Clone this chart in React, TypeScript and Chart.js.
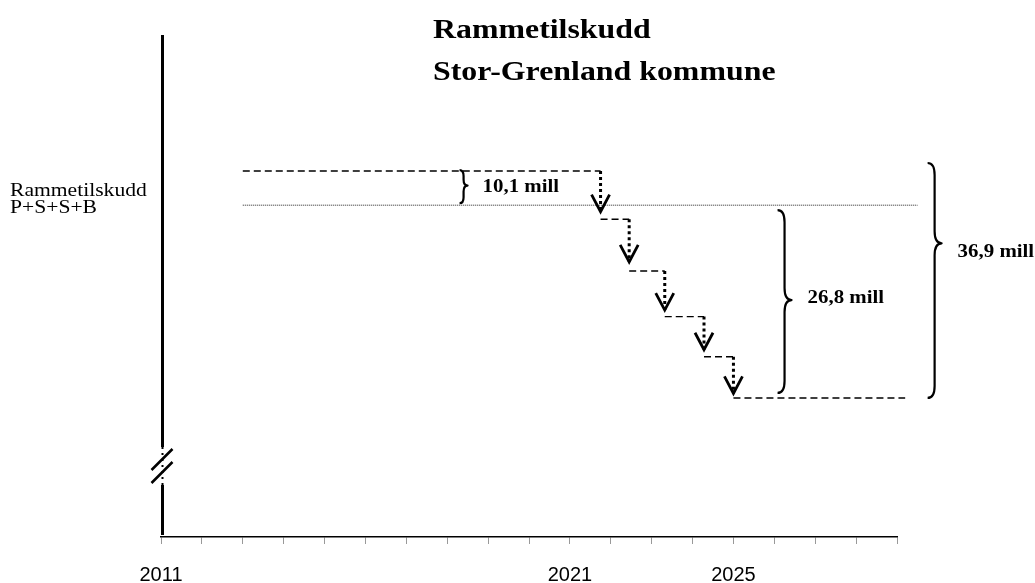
import { useEffect, useRef } from "react";
import { Chart, registerables } from "chart.js";

Chart.register(...registerables);

// ---- Text ----
const titleLines = ["Rammetilskudd", "Stor-Grenland kommune"];
const sideLabel = ["Rammetilskudd", "P+S+S+B"];

// ---- X axis (years) ----
const yearMin = 2011;
const yearMax = 2029;
const labeledYears = [2011, 2021, 2025];

// ---- Levels (schematic units) ----
const beforeStart = 2013.0;
const beforeLevel = 72.9;
const baseLevel = 66.1;
const baseEnd = 2029.5;

// Step-down schedule
const cutYears = [2021.75, 2022.45, 2023.32, 2024.28, 2025.0];
const stepLevels = [63.3, 53.0, 43.9, 35.9, 27.7];
const arrowTips = [64.8, 54.8, 45.2, 37.3, 28.6];
const finalEnd = 2029.2;

// Braces with amounts
const braceLabels = ["10,1 mill", "26,8 mill", "36,9 mill"];
const braceYears = [2018.4, 2026.25, 2029.92];
const braceTops = [73.1, 65.1, 74.5];
const braceBottoms = [66.5, 28.7, 27.7];
const braceTipLevels = [70.0, 47.2, 58.5];
const braceLabelLevels = [69.6, 47.6, 56.8];

const SERIF = "'Liberation Serif', 'Times New Roman', serif";
const SANS = "'Liberation Sans', Arial, sans-serif";

function drawStretched(
  ctx: CanvasRenderingContext2D,
  text: string,
  x: number,
  y: number,
  font: string,
  stretch: number,
  baseline: CanvasTextBaseline = "alphabetic"
) {
  ctx.save();
  ctx.font = font;
  ctx.fillStyle = "#000";
  ctx.textAlign = "left";
  ctx.textBaseline = baseline;
  ctx.translate(x, y);
  ctx.scale(stretch, 1);
  ctx.fillText(text, 0, 0);
  ctx.restore();
}

function drawBrace(
  ctx: CanvasRenderingContext2D,
  x: number,
  yTop: number,
  yBot: number,
  tipY: number,
  w: number,
  r: number
) {
  ctx.beginPath();
  ctx.moveTo(x - w, yTop);
  ctx.quadraticCurveTo(x, yTop, x, yTop + r);
  ctx.lineTo(x, tipY - r);
  ctx.quadraticCurveTo(x, tipY, x + w, tipY);
  ctx.quadraticCurveTo(x, tipY, x, tipY + r);
  ctx.lineTo(x, yBot - r);
  ctx.quadraticCurveTo(x, yBot, x - w, yBot);
  ctx.stroke();
}

const decorPlugin = {
  id: "decor",
  afterDraw(chart: any) {
    const ctx: CanvasRenderingContext2D = chart.ctx;
    const xs = chart.scales.x;
    const ys = chart.scales.y;
    const area = chart.chartArea;
    ctx.save();

    // Title
    drawStretched(ctx, titleLines[0], 433, 38, `bold 27px ${SERIF}`, 1.18);
    drawStretched(ctx, titleLines[1], 433, 80, `bold 27px ${SERIF}`, 1.18);

    // Side label next to base level
    const basePx = ys.getPixelForValue(baseLevel);
    drawStretched(ctx, sideLabel[0], 10, basePx - 9, `18px ${SERIF}`, 1.2);
    drawStretched(ctx, sideLabel[1], 10, basePx + 8, `18px ${SERIF}`, 1.2);

    // Vertical axis with break
    const ax = area.left + 1.5;
    const bTop = area.bottom - 90;
    const bBot = area.bottom - 52;
    ctx.strokeStyle = "#000";
    ctx.lineCap = "butt";
    ctx.lineWidth = 3;
    ctx.setLineDash([]);
    ctx.beginPath();
    ctx.moveTo(ax, area.top);
    ctx.lineTo(ax, bTop);
    ctx.moveTo(ax, bBot);
    ctx.lineTo(ax, area.bottom - 2);
    ctx.stroke();
    ctx.lineWidth = 2;
    ctx.setLineDash([2, 4]);
    ctx.beginPath();
    ctx.moveTo(ax, bTop);
    ctx.lineTo(ax, bBot);
    ctx.stroke();
    ctx.setLineDash([]);
    ctx.lineWidth = 2.5;
    ctx.beginPath();
    ctx.moveTo(ax - 11, bTop + 23);
    ctx.lineTo(ax + 10, bTop + 2);
    ctx.moveTo(ax - 11, bTop + 36);
    ctx.lineTo(ax + 10, bTop + 15);
    ctx.stroke();

    // Arrow heads
    ctx.lineWidth = 2.8;
    ctx.lineJoin = "miter";
    cutYears.forEach((yr, i) => {
      const px = xs.getPixelForValue(yr);
      const py = ys.getPixelForValue(arrowTips[i]);
      ctx.beginPath();
      ctx.moveTo(px - 9, py - 17);
      ctx.lineTo(px, py);
      ctx.lineTo(px + 9, py - 17);
      ctx.stroke();
    });

    // Braces and labels
    ctx.lineWidth = 2.2;
    ctx.lineJoin = "round";
    braceLabels.forEach((label, i) => {
      const bx = xs.getPixelForValue(braceYears[i]);
      const yT = ys.getPixelForValue(braceTops[i]);
      const yB = ys.getPixelForValue(braceBottoms[i]);
      const yTip = ys.getPixelForValue(braceTipLevels[i]);
      const span = yB - yT;
      const w = span > 100 ? 7 : 4;
      const r = span > 100 ? 12 : 6;
      drawBrace(ctx, bx, yT, yB, yTip, w, r);
      drawStretched(
        ctx,
        label,
        bx + (i === 0 ? 19 : 23),
        ys.getPixelForValue(braceLabelLevels[i]),
        `bold 18px ${SERIF}`,
        1.16,
        "middle"
      );
    });

    ctx.restore();
  },
};

export default function App() {
  const ref = useRef<HTMLCanvasElement>(null);

  useEffect(() => {
    if (!ref.current) return;

    const stepsData: any[] = [];
    cutYears.forEach((yr, i) => {
      const end = i < cutYears.length - 1 ? cutYears[i + 1] : finalEnd;
      stepsData.push({ x: yr, y: stepLevels[i] });
      stepsData.push({ x: end, y: stepLevels[i] });
      stepsData.push({ x: end, y: null });
    });

    const arrowData: any[] = [];
    cutYears.forEach((yr, i) => {
      const from = i === 0 ? beforeLevel : stepLevels[i - 1];
      arrowData.push({ x: yr, y: from });
      arrowData.push({ x: yr, y: arrowTips[i] });
      arrowData.push({ x: yr, y: null });
    });

    const common = {
      pointRadius: 0,
      pointHoverRadius: 0,
      tension: 0,
      fill: false,
      clip: false as const,
      spanGaps: false,
    };

    const chart = new Chart(ref.current, {
      type: "line",
      data: {
        datasets: [
          {
            ...common,
            label: "Før",
            data: [
              { x: beforeStart, y: beforeLevel },
              { x: cutYears[0], y: beforeLevel },
            ],
            borderColor: "#000",
            borderWidth: 1.4,
            borderDash: [7, 4],
          },
          {
            ...common,
            label: "Rammetilskudd P+S+S+B",
            data: [
              { x: beforeStart, y: baseLevel },
              { x: baseEnd, y: baseLevel },
            ],
            borderColor: "#222",
            borderWidth: 1,
            borderDash: [1, 1],
          },
          {
            ...common,
            label: "Trinn",
            data: stepsData,
            borderColor: "#000",
            borderWidth: 1.4,
            borderDash: [7, 4],
          },
          {
            ...common,
            label: "Nedtrapping",
            data: arrowData,
            borderColor: "#000",
            borderWidth: 3,
            borderDash: [3, 3],
            borderCapStyle: "butt",
          },
        ] as any,
      },
      options: {
        animation: false,
        responsive: false,
        maintainAspectRatio: false,
        layout: { padding: { left: 161, right: 138, top: 35, bottom: 0 } },
        plugins: {
          legend: { display: false },
          tooltip: { enabled: false },
          title: { display: false },
        },
        events: [],
        scales: {
          x: {
            type: "linear",
            min: yearMin,
            max: yearMax,
            afterFit: (s: any) => {
              s.height = 46;
            },
            ticks: {
              stepSize: 1,
              autoSkip: false,
              maxRotation: 0,
              padding: 19,
              color: "#000",
              font: { family: SANS, size: 20 },
              callback: (v: any) =>
                labeledYears.includes(Number(v)) ? String(v) : "",
            },
            grid: {
              drawOnChartArea: false,
              drawTicks: true,
              tickLength: 7,
              color: "#999",
              tickWidth: 1,
            },
            border: { display: true, color: "#000", width: 1.5 },
          },
          y: {
            type: "linear",
            min: 0,
            max: 100,
            display: false,
          },
        },
      } as any,
      plugins: [decorPlugin],
    });

    return () => chart.destroy();
  }, []);

  return (
    <div style={{ position: "absolute", left: 0, top: 0, width: 1035, height: 583, background: "#fff" }}>
      <canvas ref={ref} width={1035} height={583} style={{ display: "block" }} />
    </div>
  );
}
